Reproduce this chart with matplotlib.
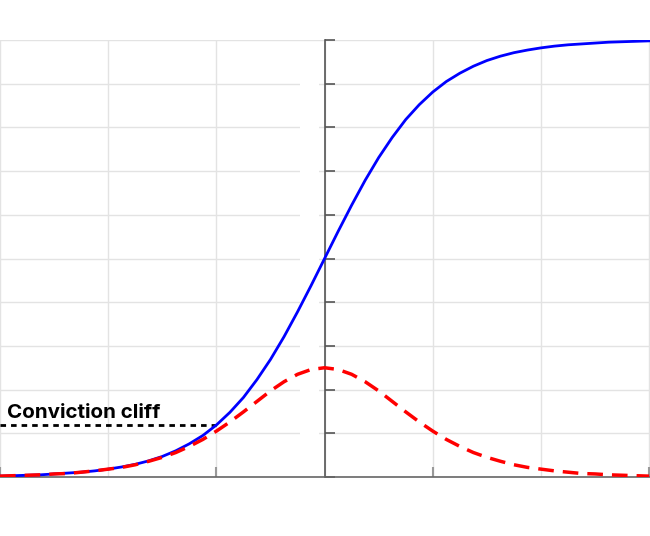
import matplotlib
matplotlib.use("Agg")
import matplotlib.pyplot as plt

# values (curve samples every 0.25 on x)
x_vals = [-6.0, -5.75, -5.5, -5.25, -5.0, -4.75, -4.5, -4.25, -4.0, -3.75,
          -3.5, -3.25, -3.0, -2.75, -2.5, -2.25, -2.0, -1.75, -1.5, -1.25,
          -1.0, -0.75, -0.5, -0.25, 0.0, 0.25, 0.5, 0.75, 1.0, 1.25, 1.5,
          1.75, 2.0, 2.25, 2.5, 2.75, 3.0, 3.25, 3.5, 3.75, 4.0, 4.25, 4.5,
          4.75, 5.0, 5.25, 5.5, 5.75, 6.0]
blue_vals = [0.002, 0.003, 0.004, 0.005, 0.007, 0.009, 0.011, 0.014, 0.018,
             0.023, 0.029, 0.037, 0.047, 0.060, 0.076, 0.095, 0.119, 0.148,
             0.182, 0.223, 0.269, 0.321, 0.378, 0.438, 0.500, 0.562, 0.622,
             0.679, 0.731, 0.777, 0.818, 0.852, 0.881, 0.905, 0.924, 0.940,
             0.953, 0.963, 0.971, 0.977, 0.982, 0.986, 0.989, 0.991, 0.993,
             0.995, 0.996, 0.997, 0.998]
red_vals = [0.002, 0.003, 0.004, 0.005, 0.007, 0.008, 0.011, 0.014, 0.018,
            0.022, 0.028, 0.036, 0.045, 0.056, 0.070, 0.086, 0.105, 0.126,
            0.149, 0.173, 0.197, 0.218, 0.235, 0.246, 0.250, 0.246, 0.235,
            0.218, 0.197, 0.173, 0.149, 0.126, 0.105, 0.086, 0.070, 0.056,
            0.045, 0.036, 0.028, 0.022, 0.018, 0.014, 0.011, 0.008, 0.007,
            0.005, 0.004, 0.003, 0.002]

cliff_x = -2
cliff_y = 0.119
cliff_label = "Conviction cliff"

grid_x = [-6, -4, -2, 0, 2, 4, 6]
tick_x = [-6, -2, 2, 6]
tick_y = [0.1 * i for i in range(11)]

fig = plt.figure(figsize=(6.5, 5.36), dpi=100)
ax = fig.add_axes([0, 59 / 536, 1, 437 / 536])

ax.set_xlim(-5.955, 6.015)
ax.set_ylim(0, 1)

# ---------------------------- grid / spines ----------------------------
ax.set_axisbelow(True)
ax.set_xticks(grid_x, minor=True)
ax.set_xticks(tick_x)
ax.set_yticks(tick_y)
ax.grid(True, which="both", color="#e3e3e3", linewidth=1.0)
# blank tick-label boxes leave a gap in the grid just left of the axis
ax.axvspan(-0.46, -0.11, ymin=0.05, ymax=0.95, color="white", zorder=0.8, lw=0)

for side in ["top", "right"]:
    ax.spines[side].set_visible(False)
ax.spines["left"].set_position(("data", 0))
ax.spines["left"].set_color("#555555")
ax.spines["bottom"].set_color("#666666")
ax.spines["left"].set_linewidth(1.2)
ax.spines["bottom"].set_linewidth(1.2)

ax.tick_params(axis="y", direction="in", length=7.5, width=1.2, color="#555555",
               labelleft=False)
ax.tick_params(axis="x", which="major", direction="in", length=7.5, width=1.5,
               color="#999999", labelbottom=False)
ax.tick_params(axis="x", which="minor", length=0)

# ------------------------------- curves -------------------------------
ax.plot(x_vals, blue_vals, color="#0000ff", linewidth=2.0, zorder=3)
ax.plot(x_vals, red_vals, color="#ff0000", linewidth=2.5, dashes=(4.5, 2.6), zorder=3)

ax.plot([-6, cliff_x], [cliff_y, cliff_y], color="black", linewidth=2.0,
        dashes=(2, 1.8), zorder=2.5)
ax.text(-5.87, cliff_y + 0.016, cliff_label, fontsize=14.8, fontweight="bold",
        family=["Inter", "DejaVu Sans"], ha="left", va="baseline", color="black")

plt.savefig("out.png", dpi=100)
